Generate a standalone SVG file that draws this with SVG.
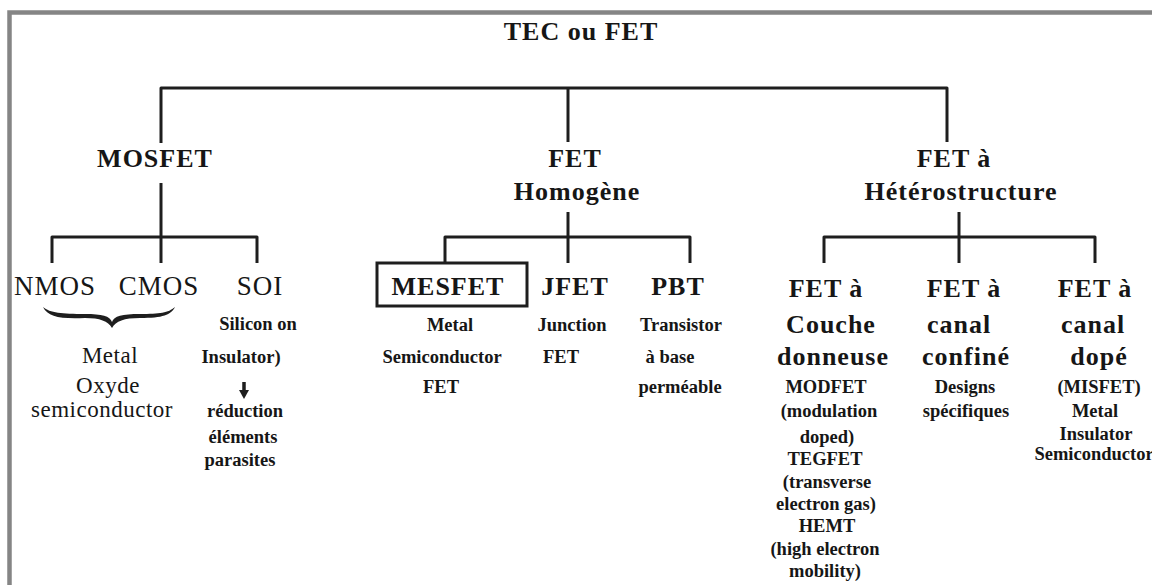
<svg xmlns="http://www.w3.org/2000/svg" width="1152" height="585" viewBox="0 0 1152 585">
<style>
text{fill:#161616;text-anchor:middle}
.big{font-size:26px;font-weight:bold;letter-spacing:1px}
.reg{font-size:27px;letter-spacing:1px}
.sm{font-size:18.5px;font-weight:bold}
.mid{font-size:23px;letter-spacing:0.5px}
.ln{fill:none;stroke:#1e1e1e;stroke-width:3;stroke-linejoin:round}
</style>
<rect x="0" y="0" width="1152" height="585" fill="#ffffff"/>
<path d="M9.5,585 V12.5 H1152" fill="none" stroke="#858585" stroke-width="4.5"/>
<g id="connectors">
<path class="ln" d="M161,143 V88 H947 V142"/>
<path class="ln" d="M568,88 V142"/>
<path class="ln" d="M161,183 V263"/>
<path class="ln" d="M52,263 V237 H257 V263"/>
<path class="ln" d="M568,212 V263"/>
<path class="ln" d="M445,263 V237 H690 V263"/>
<path class="ln" d="M959,212 V263"/>
<path class="ln" d="M824,263 V237 H1095 V263"/>
<path d="M43,307 C48,317 60,319 85,318 C100,318 108,321 112,328 C116,321 124,318 140,318 C163,318 171,315 175,307 C168,313 160,314 140,314 C122,314 114,316 112,322 C110,316 102,314 85,314 C62,314 50,313 43,307 Z" fill="#1e1e1e"/>
<line x1="244" y1="382" x2="244" y2="392" stroke="#1e1e1e" stroke-width="3.5"/>
<polygon points="239,390 249,390 244,399" fill="#1e1e1e"/>
</g>
<g font-family="'Liberation Serif', 'Times New Roman', Tinos, 'DejaVu Serif', serif">
<g id="root"><text class="big" x="581" y="40">TEC ou FET</text></g>
<g id="mosfet"><text class="big" x="155" y="167">MOSFET</text></g>
<g id="fet-homogene"><text class="big" x="575" y="167">FET</text><text class="big" x="577" y="200">Homogène</text></g>
<g id="fet-hetero"><text class="big" x="954" y="167">FET à</text><text class="big" x="961" y="200">Hétérostructure</text></g>
<g id="nmos"><text class="reg" x="55" y="295">NMOS</text></g>
<g id="cmos"><text class="reg" x="159" y="295">CMOS</text></g>
<g id="mos-desc"><text class="mid" x="110" y="363">Metal</text><text class="mid" x="108" y="393">Oxyde</text><text class="mid" x="102" y="417">semiconductor</text></g>
<g id="soi"><text class="reg" x="260" y="295">SOI</text>
<text class="sm" x="258" y="330">Silicon on</text><text class="sm" x="241" y="363">Insulator)</text>
<text class="sm" x="245" y="417">réduction</text><text class="sm" x="243" y="443">éléments</text><text class="sm" x="240" y="466">parasites</text></g>
<g id="mesfet"><rect x="377" y="263" width="150" height="43" fill="none" stroke="#1e1e1e" stroke-width="3"/>
<text class="big" x="448" y="295">MESFET</text>
<text class="sm" x="450" y="331">Metal</text><text class="sm" x="442" y="363">Semiconductor</text><text class="sm" x="441" y="393">FET</text></g>
<g id="jfet"><text class="big" x="575" y="295">JFET</text>
<text class="sm" x="572" y="331">Junction</text><text class="sm" x="561" y="363">FET</text></g>
<g id="pbt"><text class="big" x="678" y="295">PBT</text>
<text class="sm" x="681" y="331">Transistor</text><text class="sm" x="670" y="363">à base</text><text class="sm" x="680" y="393">perméable</text></g>
<g id="couche-donneuse"><text class="big" x="826" y="297">FET à</text><text class="big" x="831" y="333">Couche</text><text class="big" x="833" y="365">donneuse</text>
<text class="sm" x="826" y="393">MODFET</text><text class="sm" x="829" y="417">(modulation</text><text class="sm" x="827" y="443">doped)</text>
<text class="sm" x="825" y="465">TEGFET</text><text class="sm" x="827" y="488">(transverse</text><text class="sm" x="826" y="510">electron gas)</text>
<text class="sm" x="827" y="532">HEMT</text><text class="sm" x="825" y="555">(high electron</text><text class="sm" x="825" y="577">mobility)</text></g>
<g id="canal-confine"><text class="big" x="964" y="297">FET à</text><text class="big" x="959" y="333">canal</text><text class="big" x="966" y="365">confiné</text>
<text class="sm" x="965" y="393">Designs</text><text class="sm" x="966" y="417">spécifiques</text></g>
<g id="canal-dope"><text class="big" x="1095" y="297">FET à</text><text class="big" x="1093" y="333">canal</text><text class="big" x="1099" y="365">dopé</text>
<text class="sm" x="1099" y="393">(MISFET)</text><text class="sm" x="1095" y="417">Metal</text><text class="sm" x="1096" y="440">Insulator</text><text class="sm" x="1094" y="460">Semiconductor</text></g>
</g>
</svg>
